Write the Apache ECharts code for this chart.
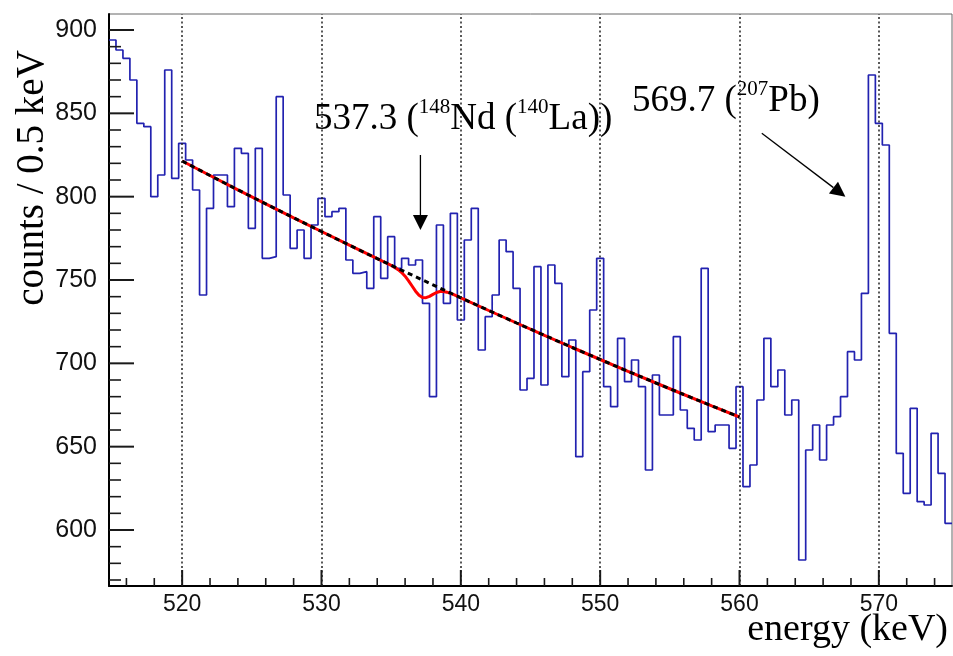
<!DOCTYPE html>
<html>
<head>
<meta charset="utf-8">
<script src="https://cdn.jsdelivr.net/npm/echarts@6/dist/echarts.min.js"></script>
<style>
  html, body { margin: 0; padding: 0; background: #ffffff; }
  #chart { width: 953px; height: 656px; }
</style>
</head>
<body>
<div id="chart"></div>
<script>
// Gamma spectrum: counts per 0.5 keV bin, first bin starts at 514.75 keV
const binStart = 514.75;
const binWidth = 0.5;
const counts = [
  894, 888, 883, 870, 844, 842, 800, 813, 876, 811,
  832, 822, 804, 741, 793, 813, 813, 794, 829, 826,
  781, 829, 763, 764, 860, 801, 769, 780, 763, 783,
  799, 788, 791, 793, 762, 754, 755, 745, 788, 751,
  776, 757, 763, 759, 762, 736, 680, 783, 736, 790,
  726, 774, 793, 708, 728, 741, 774, 767, 745, 684,
  691, 758, 687, 759, 748, 692, 714, 644, 695, 732,
  763, 686, 674, 715, 689, 702, 686, 636, 693, 669,
  669, 716, 672, 661, 654, 757, 659, 663, 663, 649,
  686, 626, 639, 678, 715, 686, 696, 669, 678, 582,
  648, 663, 642, 663, 668, 680, 707, 702, 742, 873,
  844, 831, 718, 646, 622, 673, 617, 615, 658, 634,
  604
];

// Fitted background (dashed) over the fit range 520-560 keV
const bgEnergy = [520, 522, 524, 526, 528, 530, 532, 534, 536, 538,
                  540, 542, 544, 546, 548, 550, 552, 554, 556, 558, 560];
const bgCounts = [821.4, 812.7, 804.1, 795.7, 787.3, 779.1, 770.9, 762.8, 754.9, 747.1,
                  739.3, 731.7, 724.2, 716.8, 709.5, 702.3, 695.2, 688.2, 681.3, 674.5, 667.8];

// Full fit: background plus the 537.3 keV line
const fitEnergy = [520, 522, 524, 526, 528, 530, 532, 534, 534.5, 535,
                   535.25, 535.5, 535.75, 536, 536.25, 536.5, 536.75, 537, 537.25, 537.5,
                   537.75, 538, 538.25, 538.5, 538.75, 539, 539.25, 539.5, 540, 542,
                   544, 546, 548, 550, 552, 554, 556, 558, 560];
const fitCounts = [821.4, 812.7, 804.1, 795.7, 787.3, 779.1, 770.9, 762.8, 760.8, 758.8,
                   757.6, 756.2, 754.5, 752.3, 749.5, 746.4, 743.3, 740.9, 739.5, 739.4,
                   740.2, 741.4, 742.5, 743.1, 743.1, 742.7, 742.0, 741.2, 739.3, 731.7,
                   724.2, 716.8, 709.5, 702.3, 695.2, 688.2, 681.3, 674.5, 667.8];

// Axis ticks
const xMajorTicks = [520, 530, 540, 550, 560, 570];
const xMinorTicks = [516, 518, 522, 524, 526, 528, 532, 534, 536, 538, 542, 544, 546, 548,
                     552, 554, 556, 558, 562, 564, 566, 568, 572, 574];
const yMajorTicks = [600, 650, 700, 750, 800, 850, 900];
const yMinorTicks = [570, 580, 590, 610, 620, 630, 640, 660, 670, 680, 690, 710, 720, 730, 740,
                     760, 770, 780, 790, 810, 820, 830, 840, 860, 870, 880, 890];

// Axis ranges
const xRange = [binStart, binStart + counts.length * binWidth];
const yRange = [566.4, 909.6];

// Annotation arrows, in (keV, counts)
const arrows = [
  { from: [537.1, 825], to: [537.1, 780] },
  { from: [561.6, 838], to: [567.6, 800] }
];

// Histogram outline as steps through the bin edges
const histPoints = counts.map((c, i) => [binStart + i * binWidth, c]);
histPoints.push([binStart + counts.length * binWidth, counts[counts.length - 1]]);

const SANS = '"Liberation Sans", Arial, Helvetica, sans-serif';
const SERIF = '"Liberation Serif", "Times New Roman", Times, serif';

// Inward tick marks drawn as a custom series so they follow the axis scales
function tickSeries(name, values, horizontal, len, width) {
  return {
    name: name, type: 'custom', coordinateSystem: 'cartesian2d',
    silent: true, clip: false, z: 6,
    data: values.map(v => [v, v]),
    renderItem: function (params, api) {
      const v = api.value(0);
      const p = horizontal ? api.coord([xRange[0], v]) : api.coord([v, yRange[0]]);
      return {
        type: 'line',
        shape: horizontal
          ? { x1: p[0], y1: p[1], x2: p[0] + len, y2: p[1] }
          : { x1: p[0], y1: p[1], x2: p[0], y2: p[1] - len },
        style: { stroke: '#1a1a1a', lineWidth: width }
      };
    }
  };
}

const chart = echarts.init(document.getElementById('chart'), null, { renderer: 'canvas' });

chart.setOption({
  animation: false,
  backgroundColor: '#ffffff',
  grid: {
    left: 109, right: 1, top: 14, bottom: 70,
    show: true, borderColor: '#666', borderWidth: 1, backgroundColor: 'transparent'
  },
  xAxis: {
    type: 'value', position: 'bottom', min: xRange[0], max: xRange[1],
    axisLine: { show: true, onZero: false, lineStyle: { color: '#000', width: 2 } },
    axisTick: { show: false },
    axisLabel: { show: true, customValues: xMajorTicks, margin: 7, fontSize: 23, fontFamily: SANS, color: '#111' },
    splitLine: { show: false }
  },
  yAxis: {
    type: 'value', position: 'left', min: yRange[0], max: yRange[1],
    axisLine: { show: true, onZero: false, lineStyle: { color: '#000', width: 2 } },
    axisTick: { show: false },
    axisLabel: { show: true, customValues: yMajorTicks, margin: 12, fontSize: 25, fontFamily: SANS, color: '#111' },
    splitLine: { show: false }
  },
  series: [
    {
      name: 'spectrum', type: 'line',
      data: histPoints, step: 'end', symbol: 'none', z: 2,
      lineStyle: { color: '#2222b0', width: 1.7 },
      markLine: {
        silent: true, symbol: 'none', animation: false,
        label: { show: false },
        lineStyle: { type: [2, 2.5], color: '#222', width: 1.5 },
        data: xMajorTicks.map(v => ({ xAxis: v }))
      }
    },
    {
      name: 'fit', type: 'line',
      data: fitEnergy.map((e, i) => [e, fitCounts[i]]),
      symbol: 'none', z: 3,
      lineStyle: { color: '#ff0000', width: 3 }
    },
    {
      name: 'background', type: 'line',
      data: bgEnergy.map((e, i) => [e, bgCounts[i]]),
      symbol: 'none', z: 4,
      lineStyle: { color: '#000000', width: 3, type: [5, 4] }
    },
    tickSeries('xMajorTicks', xMajorTicks, false, 16, 2),
    tickSeries('xMinorTicks', xMinorTicks, false, 8, 1.6),
    tickSeries('yMajorTicks', yMajorTicks, true, 25, 2),
    tickSeries('yMinorTicks', yMinorTicks, true, 12, 1.6)
  ]
});

const toPx = (v) => chart.convertToPixel({ xAxisIndex: 0, yAxisIndex: 0 }, v);

// Arrows and text annotations
function buildGraphics() {
  const g = [];

  arrows.forEach((a, idx) => {
    const p0 = toPx(a.from);
    const p1 = toPx(a.to);
    const dx = p1[0] - p0[0], dy = p1[1] - p0[1];
    const len = Math.hypot(dx, dy);
    const ux = dx / len, uy = dy / len;
    const head = 15, half = 7.5;
    const bx = p1[0] - ux * head, by = p1[1] - uy * head;
    g.push({
      id: 'arrowLine' + idx, type: 'line', z: 10,
      shape: { x1: p0[0], y1: p0[1], x2: bx, y2: by },
      style: { stroke: '#000', lineWidth: 1.3 }
    });
    g.push({
      id: 'arrowHead' + idx, type: 'polygon', z: 10,
      shape: { points: [[p1[0], p1[1]], [bx - uy * half, by + ux * half], [bx + uy * half, by - ux * half]] },
      style: { fill: '#000' }
    });
  });

  const rich = () => ({
    n: { fontSize: 37, fontFamily: SERIF, color: '#000', lineHeight: 44 },
    s: { fontSize: 21, fontFamily: SERIF, color: '#000', lineHeight: 37, verticalAlign: 'top' }
  });
  g.push({
    id: 'label537', type: 'text', left: 314, top: 97, z: 10,
    style: { text: '{n|537.3 (}{s|148}{n|Nd (}{s|140}{n|La))}', rich: rich() }
  });
  g.push({
    id: 'label569', type: 'text', left: 632, top: 79, z: 10,
    style: { text: '{n|569.7 (}{s|207}{n|Pb)}', rich: rich() }
  });

  // Axis titles
  g.push({
    id: 'xTitle', type: 'text', z: 10,
    x: 948, y: 630,
    style: { text: 'energy (keV)', font: '38px ' + SERIF, fill: '#000', align: 'right', verticalAlign: 'middle' }
  });
  g.push({
    id: 'yTitle', type: 'text', z: 10,
    x: 33, y: 178, rotation: Math.PI / 2,
    style: { text: 'counts / 0.5 keV', font: '39px ' + SERIF, fill: '#000', align: 'center', verticalAlign: 'middle' }
  });
  return g;
}

chart.setOption({ graphic: buildGraphics() });
</script>
</body>
</html>
